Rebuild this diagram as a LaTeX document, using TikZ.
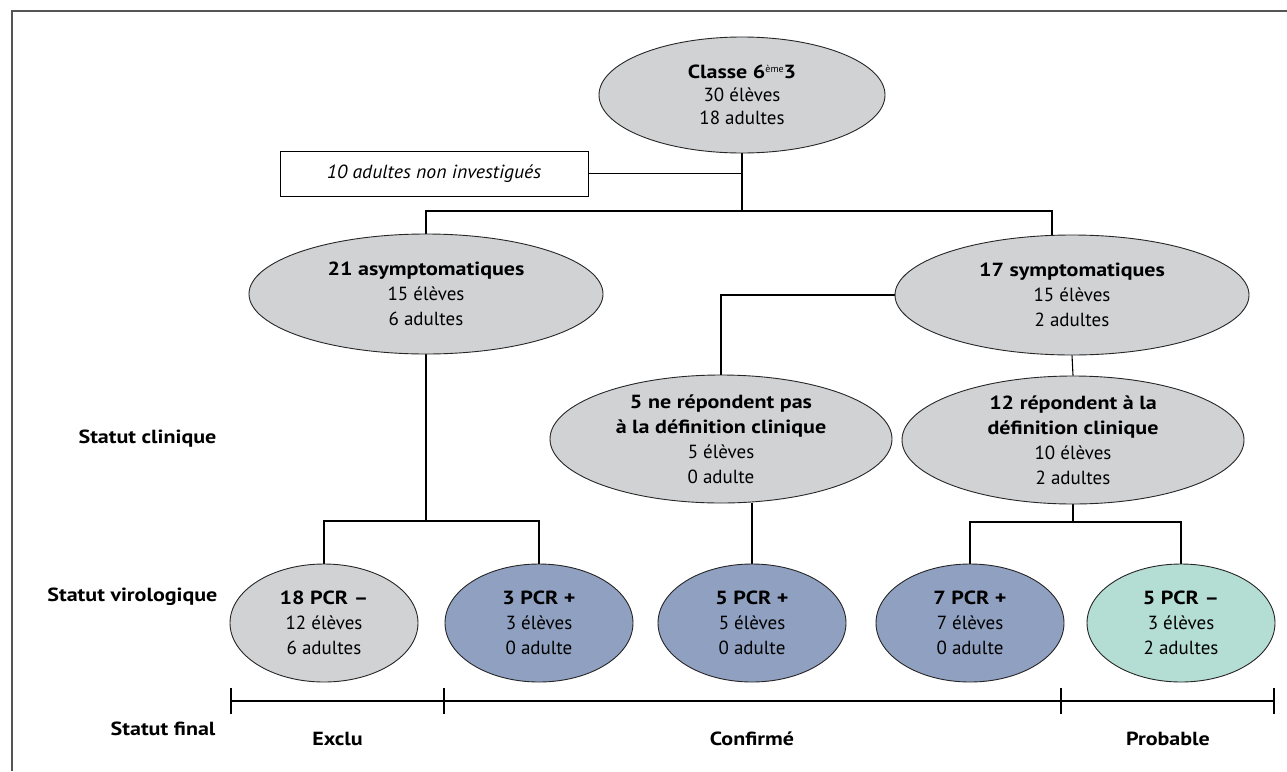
\documentclass[tikz,border=0pt]{standalone}
\usepackage{fontspec}
\setmainfont{PT Sans}[BoldFeatures={FakeStretch=1.16}, ItalicFeatures={FakeStretch=1.04}]
\usetikzlibrary{shapes.geometric}
\pgfdeclarelayer{bg}
\pgfsetlayers{bg,main}
\definecolor{ellgray}{HTML}{D1D2D4}
\definecolor{ellblue}{HTML}{8FA0C1}
\definecolor{ellgreen}{HTML}{B4DDD3}
\definecolor{framegray}{HTML}{555555}
\begin{document}
\begin{tikzpicture}[x=1pt,y=-1pt,
  ell/.style={ellipse, draw=black!85, line width=0.9pt, fill=ellgray, inner sep=0pt, align=center,
    font=\fontsize{19}{25}\selectfont},
  small/.style={ell, minimum width=188, minimum height=118},
  big/.style={ell, minimum width=354, minimum height=120},
  mid/.style={ell, minimum width=342, minimum height=128},
  conn/.style={line width=1.1pt, black},
  lab/.style={font=\fontsize{19}{25}\selectfont\bfseries},
  side/.style={font=\fontsize{19}{25}\selectfont\bfseries, anchor=east}
]
\useasboundingbox (0,0) rectangle (1287,771);
\draw[line width=2.5pt, framegray] (12,771) -- (12,11) -- (1287,11);

% nodes
\node[ell, minimum width=286, minimum height=116, font=\fontsize{19}{23}\selectfont] (top) at (742,95)
  {\textbf{Classe 6}\raisebox{6pt}{\fontsize{10}{10}\selectfont ème}\textbf{3}\\30 élèves\\18 adultes};
\node[draw, line width=0.8pt, minimum width=308, minimum height=45, inner sep=0pt,
  font=\fontsize{19}{25}\selectfont\itshape] (box) at (434,173.5) {10 adultes non investigués};

\node[big] (asym) at (426,294) {\textbf{21 asymptomatiques}\\15 élèves\\6 adultes};
\node[big] (sym) at (1072,295) {\textbf{17 symptomatiques}\\15 élèves\\2 adultes};

\node[mid] (nr) at (721,439) {\textbf{5 ne répondent pas}\\\textbf{à la définition clinique}\\5 élèves\\0 adulte};
\node[mid] (r12) at (1073,440) {\textbf{12 répondent à la}\\\textbf{définition clinique}\\10 élèves\\2 adultes};

\node[small] (p1) at (324,623) {\textbf{18 PCR –}\\12 élèves\\6 adultes};
\node[small, fill=ellblue] (p2) at (539,623) {\textbf{3 PCR +}\\3 élèves\\0 adulte};
\node[small, fill=ellblue] (p3) at (752,623) {\textbf{5 PCR +}\\5 élèves\\0 adulte};
\node[small, fill=ellblue] (p4) at (970,623) {\textbf{7 PCR +}\\7 élèves\\0 adulte};
\node[small, fill=ellgreen] (p5) at (1181,623) {\textbf{5 PCR –}\\3 élèves\\2 adultes};

% side labels
\node[side] (sc) at (220,439) {Statut clinique};
\node[side] (sv) at (221,597) {Statut virologique};
\node[side] (sf) at (219,729) {Statut final};

\node[lab] (ex) at (337.5,739) {Exclu};
\node[lab] (co) at (752,739) {Confirmé};
\node[lab] (pr) at (1168,739) {Probable};

% coordinates
\coordinate (bar) at (742,211);
\coordinate (sd) at (1052,211);
\coordinate (lb) at (426,521);
\coordinate (rb) at (1073,522);
\coordinate (t1) at (231,701);
\coordinate (t2) at (444,701);
\coordinate (t3) at (1061,701);
\coordinate (t4) at (1274,701);

\begin{pgfonlayer}{bg}
\draw[conn] (top.south) -- (bar);
\draw[conn] (box.east) -- (box.east -| top.south);
\draw[conn] (asym.north) |- (sd) -- (sd |- sym.north);
\draw[conn] (sym.west) -| (nr.north);
\draw[conn] (sym.south) -- (r12.north);
\draw[conn] (asym.south) -- (lb);
\draw[conn] (p1.north) -- (p1.north |- lb) -- (p2.north |- lb) -- (p2.north);
\draw[conn] (p3.north) -- (p3.north |- nr.south);
\draw[conn] (r12.south) -- (rb);
\draw[conn] (p4.north) -- (p4.north |- rb) -- (p5.north |- rb) -- (p5.north);
\end{pgfonlayer}

% axis
\draw[conn] (t1) -- (t4);
\foreach \t in {t1,t2,t3,t4} \draw[conn] ([yshift=-13pt]\t) -- ([yshift=13pt]\t);
\end{tikzpicture}
\end{document}
